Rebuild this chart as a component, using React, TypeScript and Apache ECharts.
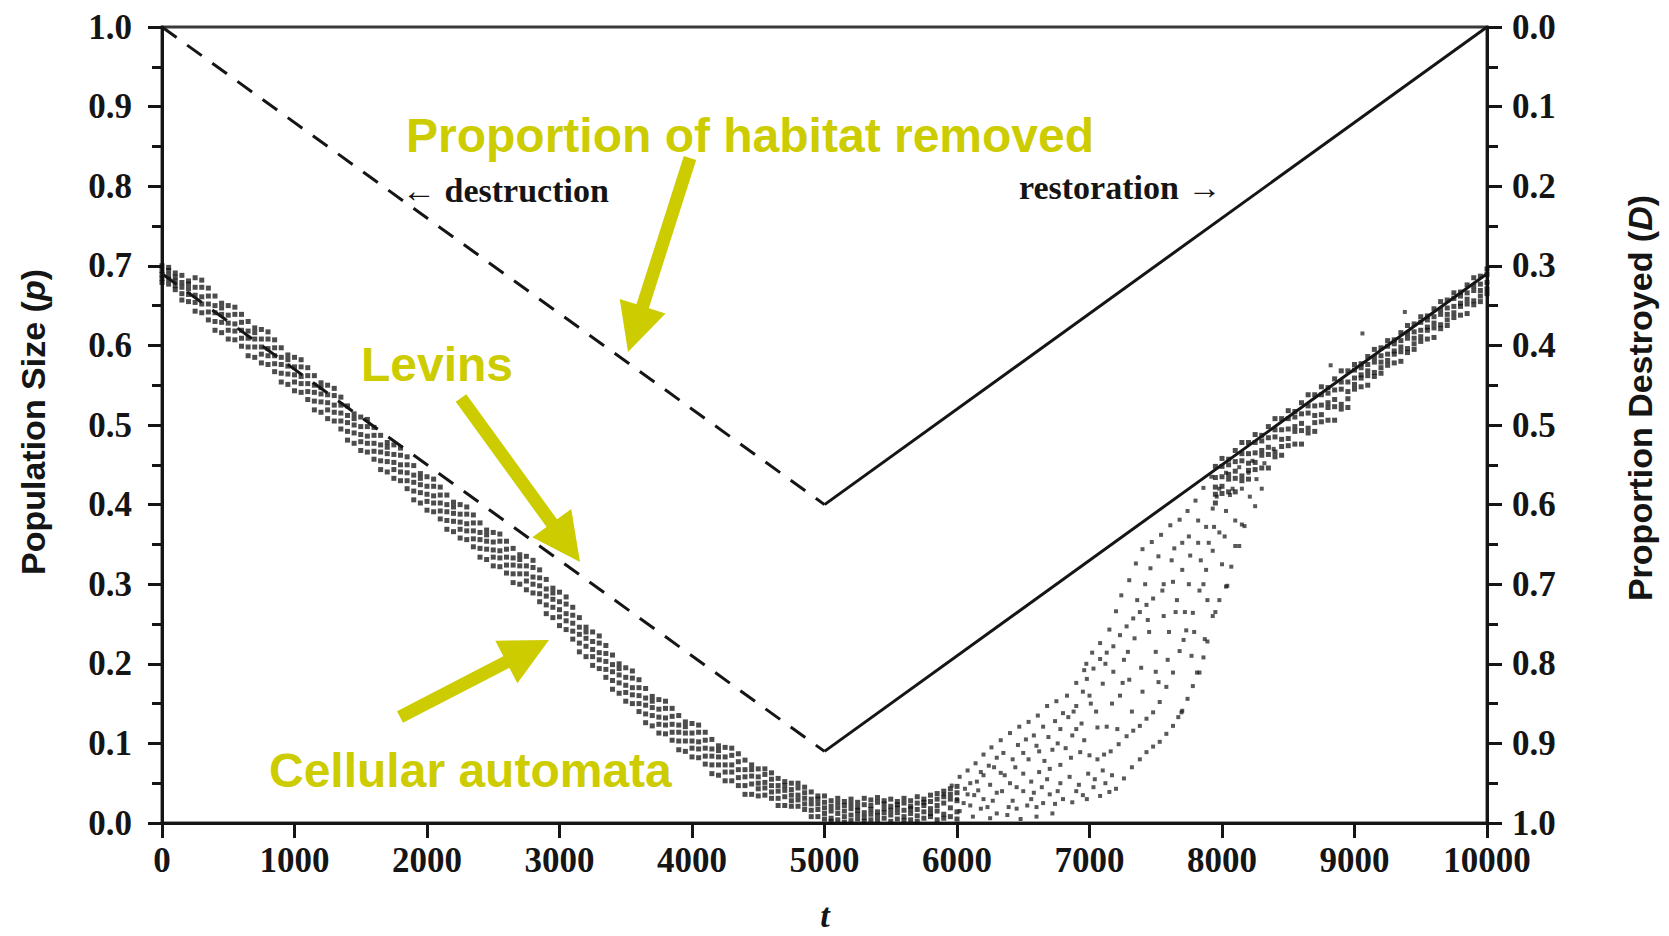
import { useEffect, useRef } from "react";
import * as echarts from "echarts";

// ---------- data ----------
const phaseTimes = [0, 5000, 10000];
const habitatRemoved = [0, 0.6, 0]; // D on right axis
const levinsP = [0.69, 0.09, 0.69]; // p on left axis

// cellular automata: [t, p1, p2, ...] samples during destruction
const caDestruction: number[][] = [
  [0, 0.7, 0.694, 0.689, 0.684, 0.679],
  [50, 0.694, 0.698, 0.683, 0.688, 0.677],
  [100, 0.67, 0.686, 0.681, 0.675, 0.691],
  [150, 0.679, 0.665, 0.688, 0.657, 0.673],
  [200, 0.664, 0.681, 0.655, 0.677, 0.671],
  [250, 0.685, 0.673, 0.663, 0.654, 0.643],
  [300, 0.673, 0.682, 0.652, 0.661, 0.641],
  [350, 0.632, 0.662, 0.652, 0.642, 0.672],
  [400, 0.65, 0.63, 0.662, 0.619, 0.641],
  [450, 0.629, 0.653, 0.616, 0.647, 0.639],
  [500, 0.65, 0.638, 0.628, 0.619, 0.608],
  [550, 0.639, 0.648, 0.618, 0.627, 0.607],
  [600, 0.599, 0.629, 0.619, 0.609, 0.639],
  [650, 0.618, 0.598, 0.63, 0.587, 0.609],
  [700, 0.598, 0.622, 0.585, 0.616, 0.608],
  [750, 0.62, 0.608, 0.598, 0.589, 0.578],
  [800, 0.608, 0.617, 0.587, 0.596, 0.576],
  [850, 0.567, 0.597, 0.587, 0.577, 0.607],
  [900, 0.585, 0.565, 0.597, 0.554, 0.576],
  [950, 0.564, 0.588, 0.551, 0.582, 0.574],
  [1000, 0.585, 0.573, 0.563, 0.554, 0.543],
  [1050, 0.573, 0.582, 0.552, 0.561, 0.541],
  [1100, 0.532, 0.562, 0.552, 0.542, 0.572],
  [1150, 0.55, 0.53, 0.562, 0.519, 0.541],
  [1200, 0.529, 0.553, 0.516, 0.547, 0.539],
  [1250, 0.55, 0.538, 0.528, 0.519, 0.508],
  [1300, 0.537, 0.546, 0.516, 0.525, 0.505],
  [1350, 0.495, 0.525, 0.515, 0.505, 0.535],
  [1400, 0.512, 0.492, 0.524, 0.481, 0.503],
  [1450, 0.49, 0.514, 0.477, 0.508, 0.5],
  [1500, 0.51, 0.498, 0.488, 0.479, 0.468],
  [1550, 0.498, 0.507, 0.477, 0.486, 0.466],
  [1600, 0.457, 0.487, 0.477, 0.467, 0.497],
  [1650, 0.475, 0.455, 0.487, 0.444, 0.466],
  [1700, 0.454, 0.478, 0.441, 0.472, 0.464],
  [1750, 0.475, 0.463, 0.453, 0.444, 0.433],
  [1800, 0.462, 0.471, 0.441, 0.45, 0.43],
  [1850, 0.42, 0.45, 0.44, 0.43, 0.46],
  [1900, 0.437, 0.417, 0.449, 0.406, 0.428],
  [1950, 0.415, 0.439, 0.402, 0.433, 0.425],
  [2000, 0.435, 0.423, 0.413, 0.404, 0.393],
  [2050, 0.423, 0.432, 0.402, 0.411, 0.391],
  [2100, 0.382, 0.412, 0.402, 0.392, 0.422],
  [2150, 0.4, 0.38, 0.412, 0.369, 0.391],
  [2200, 0.379, 0.403, 0.366, 0.397, 0.389],
  [2250, 0.4, 0.388, 0.378, 0.369, 0.358],
  [2300, 0.388, 0.397, 0.367, 0.376, 0.356],
  [2350, 0.347, 0.377, 0.367, 0.357, 0.387],
  [2400, 0.365, 0.345, 0.377, 0.334, 0.356],
  [2450, 0.344, 0.368, 0.331, 0.362, 0.354],
  [2500, 0.365, 0.353, 0.343, 0.334, 0.323],
  [2550, 0.354, 0.363, 0.333, 0.342, 0.322],
  [2600, 0.314, 0.344, 0.334, 0.324, 0.354],
  [2650, 0.333, 0.313, 0.345, 0.302, 0.324],
  [2700, 0.313, 0.337, 0.3, 0.331, 0.323],
  [2750, 0.335, 0.323, 0.313, 0.304, 0.293],
  [2800, 0.321, 0.33, 0.3, 0.309, 0.289],
  [2850, 0.278, 0.308, 0.298, 0.288, 0.318],
  [2900, 0.294, 0.274, 0.306, 0.263, 0.285],
  [2950, 0.271, 0.295, 0.258, 0.289, 0.281],
  [3000, 0.29, 0.278, 0.268, 0.259, 0.248],
  [3050, 0.275, 0.284, 0.254, 0.263, 0.243],
  [3100, 0.231, 0.261, 0.251, 0.241, 0.271],
  [3150, 0.246, 0.226, 0.258, 0.215, 0.237],
  [3200, 0.222, 0.246, 0.209, 0.24, 0.232],
  [3250, 0.24, 0.228, 0.218, 0.209, 0.198],
  [3300, 0.226, 0.235, 0.205, 0.214, 0.194],
  [3350, 0.183, 0.213, 0.203, 0.193, 0.223],
  [3400, 0.199, 0.179, 0.211, 0.168, 0.19],
  [3450, 0.176, 0.2, 0.163, 0.194, 0.186],
  [3500, 0.195, 0.183, 0.173, 0.164, 0.153],
  [3550, 0.182, 0.191, 0.161, 0.17, 0.15],
  [3600, 0.14, 0.17, 0.16, 0.15, 0.18],
  [3650, 0.157, 0.137, 0.169, 0.126, 0.148],
  [3700, 0.135, 0.159, 0.122, 0.153, 0.145],
  [3750, 0.155, 0.143, 0.133, 0.124, 0.113],
  [3800, 0.144, 0.153, 0.123, 0.132, 0.112],
  [3850, 0.104, 0.134, 0.124, 0.114, 0.144],
  [3900, 0.123, 0.103, 0.135, 0.092, 0.114],
  [3950, 0.103, 0.127, 0.09, 0.121, 0.113],
  [4000, 0.125, 0.113, 0.103, 0.094, 0.083],
  [4050, 0.114, 0.123, 0.093, 0.102, 0.082],
  [4100, 0.074, 0.104, 0.094, 0.084, 0.114],
  [4150, 0.093, 0.073, 0.105, 0.062, 0.084],
  [4200, 0.073, 0.097, 0.06, 0.091, 0.083],
  [4250, 0.095, 0.083, 0.073, 0.064, 0.053],
  [4300, 0.085, 0.094, 0.064, 0.073, 0.053],
  [4350, 0.047, 0.077, 0.067, 0.057, 0.087],
  [4400, 0.067, 0.047, 0.079, 0.036, 0.058],
  [4450, 0.049, 0.073, 0.036, 0.067, 0.059],
  [4500, 0.068, 0.058, 0.05, 0.043, 0.034],
  [4550, 0.061, 0.068, 0.044, 0.051, 0.035],
  [4600, 0.031, 0.055, 0.047, 0.039, 0.063],
  [4650, 0.047, 0.031, 0.056, 0.022, 0.04],
  [4700, 0.033, 0.052, 0.022, 0.047, 0.041],
  [4750, 0.05, 0.042, 0.035, 0.028, 0.021],
  [4800, 0.044, 0.05, 0.029, 0.035, 0.021],
  [4850, 0.017, 0.038, 0.031, 0.024, 0.045],
  [4900, 0.03, 0.016, 0.039, 0.008, 0.024],
  [4950, 0.017, 0.034, 0.008, 0.03, 0.024],
  [5000, 0.034, 0.026, 0.019, 0.012, 0.005],
];

// near-extinction trough
const caTrough: number[][] = [
  [5050, 0.028, 0.015, 0.006, 0.021, 0.002],
  [5100, 0.012, 0.031, 0.019, 0.004, 0.025],
  [5150, 0.022, 0.008, 0.027, 0.015, 0.001],
  [5200, 0.018, 0.03, 0.003, 0.024, 0.01],
  [5250, 0.026, 0.011, 0.02, 0.005, 0.016],
  [5300, 0.007, 0.023, 0.031, 0.013, 0.002],
  [5350, 0.029, 0.017, 0.004, 0.022, 0.011],
  [5400, 0.014, 0.026, 0.009, 0.032, 0.003],
  [5450, 0.024, 0.006, 0.018, 0.013, 0.028],
  [5500, 0.01, 0.021, 0.03, 0.002, 0.016],
  [5550, 0.027, 0.013, 0.005, 0.023, 0.019],
  [5600, 0.016, 0.031, 0.008, 0.025, 0.003],
  [5650, 0.021, 0.004, 0.028, 0.012, 0.018],
  [5700, 0.009, 0.025, 0.017, 0.033, 0.002],
  [5750, 0.03, 0.014, 0.022, 0.006, 0.026],
  [5800, 0.018, 0.035, 0.008, 0.027, 0.012],
  [5850, 0.037, 0.022, 0.004, 0.03, 0.015],
  [5900, 0.025, 0.04, 0.011, 0.033, 0.006],
  [5950, 0.043, 0.019, 0.03, 0.008, 0.036],
  [6000, 0.028, 0.046, 0.014, 0.038, 0.005],
];

// recovery fan: individual [t, p] points
const caFan: number[][] = [
  [5900, 0.036], [5960, 0.047], [6020, 0.058], [6080, 0.066], [6140, 0.075], [6200, 0.086],
  [6260, 0.095], [6330, 0.104], [6400, 0.113], [6470, 0.121], [6540, 0.127], [6610, 0.135],
  [6680, 0.147], [6750, 0.153], [6830, 0.16], [6900, 0.176], [6960, 0.192], [7020, 0.214],
  [7080, 0.226], [7150, 0.243], [7200, 0.266], [7240, 0.286], [7300, 0.305], [7350, 0.326],
  [7400, 0.344], [7470, 0.353], [7540, 0.362], [7610, 0.374], [7680, 0.381], [7740, 0.392],
  [7800, 0.405], [7860, 0.421], [7920, 0.435],
  [6000, 0.03], [6080, 0.036], [6160, 0.041], [6250, 0.048], [6330, 0.063], [6420, 0.08],
  [6500, 0.088], [6600, 0.097], [6690, 0.108], [6780, 0.118], [6840, 0.133], [6900, 0.147],
  [6950, 0.165], [6980, 0.181], [7030, 0.194], [7080, 0.206], [7130, 0.214], [7180, 0.222],
  [7230, 0.236], [7280, 0.247], [7330, 0.257], [7380, 0.265], [7430, 0.274], [7480, 0.282],
  [7550, 0.292], [7630, 0.303], [7700, 0.318], [7760, 0.336], [7820, 0.352], [7880, 0.372],
  [7930, 0.395], [7980, 0.42], [8030, 0.44],
  [6100, 0.022], [6200, 0.03], [6300, 0.038], [6400, 0.05], [6500, 0.062], [6620, 0.064],
  [6700, 0.068], [6780, 0.073], [6860, 0.082], [6930, 0.089], [7000, 0.085], [7060, 0.08],
  [7110, 0.086], [7160, 0.09], [7220, 0.099], [7280, 0.109], [7330, 0.116], [7380, 0.122],
  [7430, 0.131], [7480, 0.139], [7530, 0.152], [7580, 0.171], [7630, 0.189], [7680, 0.216],
  [7730, 0.242], [7780, 0.264], [7830, 0.292], [7880, 0.318], [7930, 0.342], [7980, 0.365],
  [8030, 0.392], [8080, 0.42], [8130, 0.447],
  [6300, 0.012], [6450, 0.018], [6600, 0.02], [6740, 0.024], [6870, 0.026], [6980, 0.03],
  [7080, 0.034], [7150, 0.039], [7200, 0.043], [7260, 0.056], [7320, 0.07], [7380, 0.08],
  [7430, 0.089], [7480, 0.096], [7530, 0.102], [7580, 0.112], [7630, 0.122], [7670, 0.133],
  [7700, 0.141], [7740, 0.156], [7780, 0.172], [7830, 0.189], [7860, 0.208], [7890, 0.228],
  [7930, 0.26], [7980, 0.28], [8030, 0.297], [8070, 0.322], [8100, 0.348], [8150, 0.375],
  [8210, 0.41], [8260, 0.432], [8320, 0.452], [8390, 0.47],
  [6350, 0.088], [6520, 0.105], [6650, 0.121], [6720, 0.092], [6800, 0.138], [6870, 0.11],
  [6940, 0.125], [7000, 0.16], [7050, 0.14], [7100, 0.175], [7130, 0.121], [7180, 0.19],
  [7230, 0.16], [7260, 0.205], [7300, 0.18], [7340, 0.232], [7390, 0.195], [7420, 0.3],
  [7450, 0.24], [7500, 0.215], [7520, 0.335], [7560, 0.26], [7600, 0.24], [7640, 0.345],
  [7660, 0.28], [7700, 0.352], [7720, 0.265], [7750, 0.3], [7790, 0.24], [7820, 0.38],
  [7860, 0.3], [7870, 0.231], [7900, 0.352], [7950, 0.265], [7960, 0.41], [8000, 0.325],
  [8040, 0.298], [8100, 0.38], [8130, 0.348], [8170, 0.373], [8200, 0.44], [8250, 0.398],
  [8300, 0.42], [7694, 0.139], [7811, 0.189], [7521, 0.177], [6976, 0.2],
  [6500, 0.04], [6560, 0.052], [6640, 0.045], [6700, 0.036], [6780, 0.05], [6850, 0.058],
  [6920, 0.048], [6990, 0.062], [7040, 0.055], [7100, 0.066], [6200, 0.06], [6280, 0.07],
  [6150, 0.052], [6060, 0.043], [6420, 0.028], [6560, 0.03], [6230, 0.02], [6020, 0.015],
  [6120, 0.008], [6250, 0.006], [6380, 0.01], [6480, 0.005], [6600, 0.008], [6720, 0.012],
  [6100, 0.05], [6180, 0.064], [6240, 0.072], [6300, 0.082], [6360, 0.06], [6440, 0.07],
  [6460, 0.098], [6540, 0.08], [6580, 0.11], [6620, 0.09], [6660, 0.078], [6740, 0.128],
  [6760, 0.1], [6820, 0.094], [6880, 0.14], [6900, 0.118], [6960, 0.104], [7010, 0.15],
  [7060, 0.12], [7120, 0.2], [7170, 0.15], [7210, 0.118], [7250, 0.176], [7290, 0.215],
  [7320, 0.14], [7360, 0.28], [7400, 0.165], [7440, 0.255], [7460, 0.32], [7500, 0.19],
  [7560, 0.3], [7590, 0.205], [7620, 0.33], [7650, 0.265], [7710, 0.23], [7750, 0.36],
  [7770, 0.21], [7840, 0.33], [7890, 0.28], [7940, 0.372], [8020, 0.36], [8060, 0.412],
  [8150, 0.42], [8230, 0.455],
  [6050, 0.025], [6130, 0.035], [6180, 0.018], [6270, 0.028], [6340, 0.04], [6390, 0.02],
  [6450, 0.045], [6530, 0.022], [6580, 0.038], [6650, 0.025], [6680, 0.055], [6760, 0.04],
  [6800, 0.03], [6900, 0.04], [6950, 0.035], [7030, 0.045], [7120, 0.05], [7170, 0.06],
  [9060, 0.615], [8820, 0.575], [9380, 0.642],
];

// restored phase, tracking the Levins line from below
const caRestored: number[][] = [
  [7950, 0.448, 0.434, 0.422, 0.413, 0.402],
  [8000, 0.448, 0.435, 0.423, 0.414, 0.458],
  [8050, 0.45, 0.438, 0.432, 0.416, 0.457],
  [8100, 0.468, 0.454, 0.442, 0.433, 0.416],
  [8150, 0.464, 0.455, 0.436, 0.43, 0.478],
  [8200, 0.478, 0.464, 0.452, 0.443, 0.432],
  [8250, 0.478, 0.465, 0.453, 0.444, 0.488],
  [8300, 0.48, 0.468, 0.462, 0.446, 0.487],
  [8350, 0.498, 0.484, 0.472, 0.463, 0.446],
  [8400, 0.494, 0.485, 0.466, 0.46, 0.508],
  [8450, 0.508, 0.494, 0.482, 0.473, 0.462],
  [8500, 0.508, 0.495, 0.483, 0.474, 0.518],
  [8550, 0.51, 0.498, 0.492, 0.476, 0.517],
  [8600, 0.528, 0.514, 0.502, 0.493, 0.476],
  [8650, 0.524, 0.515, 0.496, 0.49, 0.538],
  [8700, 0.538, 0.524, 0.512, 0.503, 0.492],
  [8750, 0.538, 0.525, 0.513, 0.504, 0.548],
  [8800, 0.54, 0.528, 0.522, 0.506, 0.547],
  [8850, 0.558, 0.544, 0.532, 0.523, 0.506],
  [8900, 0.554, 0.545, 0.526, 0.52, 0.568],
  [8950, 0.568, 0.554, 0.542, 0.533, 0.522],
  [9000, 0.569, 0.559, 0.551, 0.545, 0.576],
  [9050, 0.572, 0.563, 0.559, 0.548, 0.577],
  [9100, 0.586, 0.576, 0.568, 0.562, 0.55],
  [9150, 0.585, 0.579, 0.566, 0.561, 0.595],
  [9200, 0.597, 0.587, 0.579, 0.572, 0.565],
  [9250, 0.599, 0.589, 0.581, 0.575, 0.606],
  [9300, 0.602, 0.593, 0.589, 0.578, 0.607],
  [9350, 0.616, 0.606, 0.598, 0.592, 0.58],
  [9400, 0.615, 0.609, 0.596, 0.591, 0.625],
  [9450, 0.627, 0.617, 0.609, 0.602, 0.595],
  [9500, 0.629, 0.619, 0.611, 0.605, 0.636],
  [9550, 0.632, 0.623, 0.619, 0.608, 0.637],
  [9600, 0.646, 0.636, 0.628, 0.622, 0.61],
  [9650, 0.645, 0.639, 0.626, 0.621, 0.655],
  [9700, 0.657, 0.647, 0.639, 0.632, 0.625],
  [9750, 0.659, 0.649, 0.641, 0.635, 0.666],
  [9800, 0.662, 0.653, 0.649, 0.638, 0.667],
  [9850, 0.676, 0.666, 0.658, 0.652, 0.64],
  [9900, 0.675, 0.669, 0.656, 0.651, 0.685],
  [9950, 0.687, 0.677, 0.669, 0.662, 0.655],
  [10000, 0.689, 0.679, 0.671, 0.665, 0.696],
];

// ---------- helpers ----------
const rowsToPoints = (rows: number[][]) =>
  rows.flatMap(([t, ...ps]) => ps.map((p) => [t, p]));

const INK = "#151515";
const YEL = "#cccc00";
const SERIF = "'Liberation Serif', 'Times New Roman', serif";
const SANS = "'Liberation Sans', Arial, sans-serif";

function arrow(sx: number, sy: number, tx: number, ty: number) {
  const dx = tx - sx;
  const dy = ty - sy;
  const len = Math.hypot(dx, dy);
  const ux = dx / len;
  const uy = dy / len;
  const nx = -uy;
  const ny = ux;
  const h = 48;
  const w = 24;
  const bx = tx - h * ux;
  const by = ty - h * uy;
  return {
    type: "group",
    z: 100,
    children: [
      {
        type: "line",
        shape: { x1: sx, y1: sy, x2: bx + ux * 2, y2: by + uy * 2 },
        style: { stroke: YEL, lineWidth: 13, lineCap: "butt" },
      },
      {
        type: "polygon",
        shape: {
          points: [
            [tx, ty],
            [bx + w * nx, by + w * ny],
            [bx - w * nx, by - w * ny],
          ],
        },
        style: { fill: YEL },
      },
    ],
  };
}

export default function App() {
  const ref = useRef<HTMLDivElement>(null);

  useEffect(() => {
    if (!ref.current) return;
    const chart = echarts.init(ref.current, null, { renderer: "svg" });

    const seg = (ys: number[], a: number, b: number) => [
      [phaseTimes[a], ys[a]],
      [phaseTimes[b], ys[b]],
    ];

    const tickLabel = {
      fontFamily: SERIF,
      fontWeight: "bold" as const,
      fontSize: 35,
      color: INK,
    };

    const dotStyle = { color: "rgba(12,12,12,0.92)" };

    const option = {
      animation: false,
      backgroundColor: "#ffffff",
      grid: {
        left: 162,
        right: 182,
        top: 27,
        bottom: 113,
        show: true,
        borderColor: "#3a3a3a",
        borderWidth: 3,
      },
      xAxis: {
        type: "value",
        min: 0,
        max: 10000,
        interval: 1000,
        axisLine: { onZero: false, lineStyle: { color: INK, width: 3 } },
        axisTick: { length: 15, lineStyle: { color: INK, width: 3 } },
        axisLabel: { ...tickLabel, margin: 20, formatter: (v: number) => String(v) },
        splitLine: { show: false },
      },
      yAxis: [
        {
          type: "value",
          min: 0,
          max: 1,
          interval: 0.1,
          axisLine: { show: true, lineStyle: { color: INK, width: 3 } },
          axisTick: { show: true, length: 14, lineStyle: { color: INK, width: 3 } },
          minorTick: { show: true, splitNumber: 2, length: 10, lineStyle: { color: INK, width: 3 } },
          axisLabel: { ...tickLabel, margin: 30, formatter: (v: number) => v.toFixed(1) },
          splitLine: { show: false },
        },
        {
          type: "value",
          position: "right",
          min: 0,
          max: 1,
          interval: 0.1,
          inverse: true,
          axisLine: { show: true, lineStyle: { color: INK, width: 3 } },
          axisTick: { show: true, length: 15, lineStyle: { color: INK, width: 3 } },
          minorTick: { show: true, splitNumber: 2, length: 11, lineStyle: { color: INK, width: 3 } },
          axisLabel: { ...tickLabel, margin: 25, formatter: (v: number) => v.toFixed(1) },
          splitLine: { show: false },
        },
      ],
      series: [
        {
          type: "scatter",
          name: "CA destruction",
          symbol: "rect",
          symbolSize: 5,
          itemStyle: dotStyle,
          data: rowsToPoints(caDestruction),
          z: 2,
        },
        {
          type: "scatter",
          name: "CA trough",
          symbol: "rect",
          symbolSize: 5,
          itemStyle: dotStyle,
          data: rowsToPoints(caTrough),
          z: 2,
        },
        {
          type: "scatter",
          name: "CA recovery",
          symbol: "rect",
          symbolSize: 4,
          itemStyle: { color: "rgba(25,25,25,0.9)" },
          data: caFan,
          z: 2,
        },
        {
          type: "scatter",
          name: "CA restored",
          symbol: "rect",
          symbolSize: 5,
          itemStyle: dotStyle,
          data: rowsToPoints(caRestored),
          z: 2,
        },
        {
          type: "line",
          name: "habitat destruction",
          yAxisIndex: 1,
          data: seg(habitatRemoved, 0, 1),
          showSymbol: false,
          lineStyle: { color: INK, width: 3, type: [18, 13] },
          z: 5,
        },
        {
          type: "line",
          name: "habitat restoration",
          yAxisIndex: 1,
          data: seg(habitatRemoved, 1, 2),
          showSymbol: false,
          lineStyle: { color: INK, width: 3 },
          z: 5,
        },
        {
          type: "line",
          name: "Levins destruction",
          data: seg(levinsP, 0, 1),
          showSymbol: false,
          lineStyle: { color: INK, width: 3, type: [18, 13] },
          z: 5,
        },
        {
          type: "line",
          name: "Levins restoration",
          data: seg(levinsP, 1, 2),
          showSymbol: false,
          lineStyle: { color: INK, width: 3 },
          z: 5,
        },
      ],
      graphic: [
        {
          type: "text",
          z: 100,
          x: 33,
          y: 422,
          rotation: Math.PI / 2,
          style: {
            text: "{n|Population Size (}{i|p}{n|)}",
            align: "center",
            verticalAlign: "middle",
            fill: INK,
            rich: {
              n: { fontFamily: SANS, fontWeight: "bold", fontSize: 34, fill: INK },
              i: { fontFamily: SANS, fontWeight: "bold", fontStyle: "italic", fontSize: 34, fill: INK },
            },
          },
        },
        {
          type: "text",
          z: 100,
          x: 1640,
          y: 398,
          rotation: Math.PI / 2,
          style: {
            text: "{n|Proportion Destroyed (}{i|D}{n|)}",
            align: "center",
            verticalAlign: "middle",
            fill: INK,
            rich: {
              n: { fontFamily: SANS, fontWeight: "bold", fontSize: 34, fill: INK },
              i: { fontFamily: SANS, fontWeight: "bold", fontStyle: "italic", fontSize: 34, fill: INK },
            },
          },
        },
        {
          type: "text",
          z: 100,
          x: 825,
          y: 932,
          style: {
            text: "t",
            align: "center",
            verticalAlign: "bottom",
            fontFamily: SERIF,
            fontStyle: "italic",
            fontWeight: "bold",
            fontSize: 34,
            fill: INK,
          },
        },
        {
          type: "text",
          z: 100,
          x: 402,
          y: 190,
          style: {
            text: "\u2190 destruction",
            align: "left",
            verticalAlign: "middle",
            fontFamily: SERIF,
            fontWeight: "bold",
            fontSize: 34,
            fill: INK,
          },
        },
        {
          type: "text",
          z: 100,
          x: 1019,
          y: 187,
          style: {
            text: "restoration \u2192",
            align: "left",
            verticalAlign: "middle",
            fontFamily: SERIF,
            fontWeight: "bold",
            fontSize: 34,
            fill: INK,
          },
        },
        {
          type: "text",
          z: 100,
          x: 406,
          y: 135,
          style: {
            text: "Proportion of habitat removed",
            align: "left",
            verticalAlign: "middle",
            fontFamily: SANS,
            fontWeight: "bold",
            fontSize: 48,
            fill: YEL,
          },
        },
        {
          type: "text",
          z: 100,
          x: 361,
          y: 364,
          style: {
            text: "Levins",
            align: "left",
            verticalAlign: "middle",
            fontFamily: SANS,
            fontWeight: "bold",
            fontSize: 48,
            fill: YEL,
          },
        },
        {
          type: "text",
          z: 100,
          x: 269,
          y: 770,
          style: {
            text: "Cellular automata",
            align: "left",
            verticalAlign: "middle",
            fontFamily: SANS,
            fontWeight: "bold",
            fontSize: 48,
            fill: YEL,
          },
        },
        arrow(690, 158, 628, 352),
        arrow(461, 398, 580, 562),
        arrow(400, 717, 549, 640),
      ],
    };

    chart.setOption(option as any);
    return () => chart.dispose();
  }, []);

  return (
    <div
      ref={ref}
      style={{ position: "fixed", left: 0, top: 0, width: 1669, height: 936, background: "#fff" }}
    />
  );
}
